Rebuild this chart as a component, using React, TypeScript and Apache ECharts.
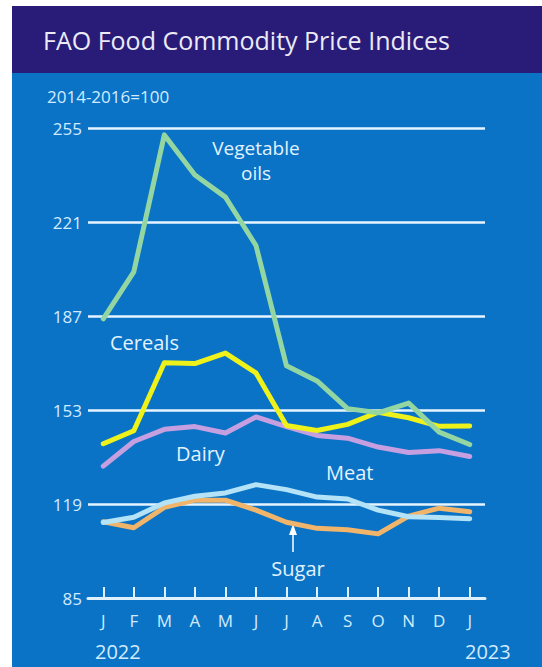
import React, { useEffect, useRef } from "react";
import * as echarts from "echarts";

const months = ["J", "F", "M", "A", "M", "J", "J", "A", "S", "O", "N", "D", "J"];
const vegOils = [186, 203, 252.5, 238, 230, 212.5, 169, 163.5, 153.5, 152, 155.5, 145, 140.5];
const cereals = [140.8, 145.5, 170.1, 169.8, 173.6, 166.4, 147.4, 145.6, 147.8, 152.2, 150.2, 147.1, 147.2];
const dairy = [132.7, 141.6, 146, 147, 144.7, 150.5, 147, 143.8, 142.8, 139.6, 137.6, 138.3, 136.2];
const meat = [112.3, 114.2, 119.4, 121.8, 123, 126, 124.2, 121.5, 120.8, 116.8, 114.4, 114.1, 113.7];
const sugar = [112.6, 110.4, 117.8, 120.4, 120.4, 116.8, 112.4, 110.2, 109.7, 108.2, 114.6, 117.5, 116.2];
const yTicks = [85, 119, 153, 187, 221, 255];
const years = ["2022", "2023"];

export default function App() {
  const ref = useRef<HTMLDivElement>(null);
  useEffect(() => {
    document.body.style.margin = "0";
    const chart = echarts.init(ref.current!, undefined, { renderer: "svg" });
    const lbl = "#d2ecff";
    const ff = "Open Sans";
    const lineSeries = (name: string, data: number[], color: string, z: number) => ({
      name,
      type: "line",
      data,
      symbol: "none",
      z,
      lineStyle: { color, width: 5, join: "round", cap: "round" },
    });
    chart.setOption({
      animation: false,
      backgroundColor: "#ffffff",
      grid: { left: 88, width: 397, top: 128, bottom: 69 },
      xAxis: {
        type: "category",
        data: months,
        boundaryGap: true,
        axisLine: { show: true, lineStyle: { color: "#dff0ff", width: 3 } },
        axisTick: { show: true, inside: true, alignWithLabel: true, length: 11, lineStyle: { color: "#dff0ff", width: 2 } },
        axisLabel: { color: lbl, fontSize: 17, margin: 14, fontFamily: ff },
        splitLine: { show: false },
      },
      yAxis: {
        type: "value",
        min: 85,
        max: 255,
        interval: 34,
        axisLine: { show: false },
        axisTick: { show: false },
        axisLabel: {
          color: lbl,
          fontSize: 17,
          margin: 6,
          fontFamily: ff,
          formatter: (v: number) => (yTicks.includes(v) ? String(v) : ""),
        },
        splitLine: { show: true, lineStyle: { color: "#e6f4ff", width: 2.5 } },
      },
      graphic: [
        { type: "rect", z: -10, silent: true, shape: { x: 12, y: 6, width: 530, height: 661 }, style: { fill: "#0a73c6" } },
        { type: "rect", z: -9, silent: true, shape: { x: 12, y: 6, width: 530, height: 67 }, style: { fill: "#281c78" } },
        { type: "text", x: 43, y: 40, style: { text: "FAO Food Commodity Price Indices", fill: "#eceaf6", fontSize: 25, fontFamily: ff, verticalAlign: "middle" } },
        { type: "text", x: 47, y: 96, style: { text: "2014-2016=100", fill: lbl, fontSize: 17, fontFamily: ff, verticalAlign: "middle" } },
        { type: "text", x: 256, y: 148, style: { text: "Vegetable", fill: "#e2f2ff", fontSize: 19, fontFamily: ff, align: "center", verticalAlign: "middle" } },
        { type: "text", x: 256, y: 173, style: { text: "oils", fill: "#e2f2ff", fontSize: 19, fontFamily: ff, align: "center", verticalAlign: "middle" } },
        { type: "text", x: 110, y: 342, style: { text: "Cereals", fill: "#e2f2ff", fontSize: 20, fontFamily: ff, verticalAlign: "middle" } },
        { type: "text", x: 176, y: 453, style: { text: "Dairy", fill: "#e2f2ff", fontSize: 20, fontFamily: ff, verticalAlign: "middle" } },
        { type: "text", x: 326, y: 472, style: { text: "Meat", fill: "#e2f2ff", fontSize: 20, fontFamily: ff, verticalAlign: "middle" } },
        { type: "text", x: 298, y: 568, style: { text: "Sugar", fill: "#e2f2ff", fontSize: 20, fontFamily: ff, align: "center", verticalAlign: "middle" } },
        { type: "line", shape: { x1: 293, y1: 531, x2: 293, y2: 552 }, style: { stroke: "#ffffff", lineWidth: 1.5 } },
        { type: "polygon", shape: { points: [[293, 524], [289, 535], [297, 535]] }, style: { fill: "#ffffff" } },
        { type: "text", x: 95, y: 651, style: { text: years[0], fill: lbl, fontSize: 20, fontFamily: ff, verticalAlign: "middle" } },
        { type: "text", x: 465, y: 651, style: { text: years[1], fill: lbl, fontSize: 20, fontFamily: ff, verticalAlign: "middle" } },
      ],
      series: [
        lineSeries("Dairy", dairy, "#c59fe0", 3),
        lineSeries("Sugar", sugar, "#f0b46a", 4),
        lineSeries("Meat", meat, "#b4e2f6", 5),
        lineSeries("Cereals", cereals, "#eef21a", 6),
        lineSeries("Vegetable oils", vegOils, "#94d6a2", 7),
      ],
    });
    return () => chart.dispose();
  }, []);
  return <div ref={ref} style={{ width: 542, height: 667 }} />;
}
